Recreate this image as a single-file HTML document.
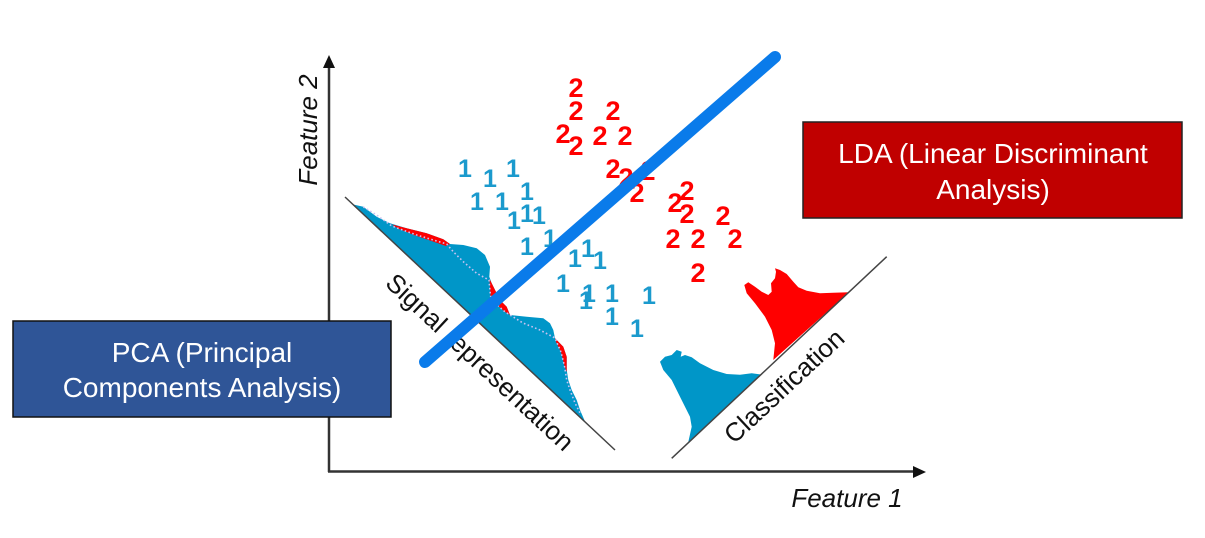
<!DOCTYPE html>
<html><head><meta charset="utf-8"><style>
html,body{margin:0;padding:0;background:#fff;}
svg{display:block;}
text{font-family:"Liberation Sans",sans-serif;}
</style></head><body>
<svg width="1205" height="538" viewBox="0 0 1205 538" xmlns="http://www.w3.org/2000/svg">
<!-- axes -->
<line x1="329" y1="472" x2="329" y2="66" stroke="#333" stroke-width="2.5"/>
<polygon points="323,68 335,68 329,55" fill="#111"/>
<line x1="328" y1="471.5" x2="914" y2="471.5" stroke="#333" stroke-width="2.5"/>
<polygon points="913,466 913,478 926,472" fill="#111"/>
<text x="0" y="0" transform="translate(317,130) rotate(-90)" text-anchor="middle" font-size="26" font-style="italic" fill="#111">Feature 2</text>
<text x="847" y="507" text-anchor="middle" font-size="26" font-style="italic" fill="#111">Feature 1</text>

<!-- signal representation line & distribution -->
<polygon fill="#0096C8" points="353.3,204.5 363.3,206.7 376.7,216.7 390,223.3 406.7,228.3 426.7,233.3 443.3,239.3 450,244 463.3,245 476.7,248.3 485,255 490,266.7 489.3,276.7 491.7,283.3 500,300 506.7,306.7 510,315 526.7,316.7 543.3,318.3 550,323.3 553.3,330 555,338.3 563.3,346.7 566.7,356.7 566.7,370 568.3,380 571.7,390 576.7,400 580,410 585,421.5"/>
<polygon fill="#FF0000" points="392,224.5 406.7,228.3 426.7,233.3 443.3,239.3 450,244 446,246 430,240.5 414,235 398,228.5"/>
<polygon fill="#FF0000" points="489.5,279 491.7,283.3 500,300 506.7,306.7 510,315 504,311 496,304 490.5,296"/>
<polygon fill="#FF0000" points="555,338.3 563.3,346.7 566.7,356.7 566.7,372 564.5,366 561,352 556,342"/>
<polyline fill="none" stroke="#C9C2F2" stroke-width="1.6" stroke-dasharray="1.6,2.4" points="363.3,207 376.7,215 391.7,226 416.7,235 446.7,244 453.3,251.7 463.3,261.7 476.7,273.3 489,280 490.5,296 496,304 504,311 510,315 523,323 540,330 555,338 561,352 564.5,366 566.7,380 570,390 575,403 580,413"/>
<line x1="345" y1="197" x2="615" y2="450" stroke="#444" stroke-width="1.5"/>
<text x="0" y="0" transform="translate(480,362) rotate(43)" text-anchor="middle" dy="9" font-size="26" fill="#111">Signal representation</text>

<!-- classification line & distributions -->
<polygon fill="#0096C8" points="688.3,442 691.7,426.7 690,416.7 680,396.7 671.7,380 663.3,370 660,361.7 665,356.7 671.7,355 676.7,350 681.7,351.7 680.7,356.7 685,355 691.7,357.3 700,363.3 713.3,370 726.7,374 740,374.7 751.7,373.3 761,374.5"/>
<polygon fill="#FF0000" points="773.3,360 775,343.3 771.7,330 765,316.7 755,303.3 746.7,293.3 744.3,285 748.3,282.3 755,286.7 761.7,291.7 768.3,295 771.7,291.7 771,283.3 775,278.3 776,271.7 775,268.3 780,270 786.7,274 793.3,281.7 798.3,287.3 806.7,290.7 820,293.3 833.3,292.7 849,292.3"/>
<line x1="671.7" y1="458.3" x2="886.7" y2="256.7" stroke="#444" stroke-width="1.5"/>
<text x="0" y="0" transform="translate(784,386) rotate(-43)" text-anchor="middle" dy="9" font-size="26" fill="#111">Classification</text>

<!-- digits 1 -->
<g fill="#1B9ACD" font-size="25" font-weight="bold" text-anchor="middle">
<text x="465" y="177">1</text>
<text x="490" y="187">1</text>
<text x="513" y="177">1</text>
<text x="477" y="210">1</text>
<text x="502" y="210">1</text>
<text x="527" y="200">1</text>
<text x="514" y="229">1</text>
<text x="527" y="222">1</text>
<text x="539" y="224">1</text>
<text x="527" y="255">1</text>
<text x="550" y="247">1</text>
<text x="575" y="267">1</text>
<text x="588" y="257">1</text>
<text x="600" y="269">1</text>
<text x="563" y="292">1</text>
<text x="589" y="302">1</text>
<text x="586" y="309">1</text>
<text x="612" y="302">1</text>
<text x="649" y="304">1</text>
<text x="612" y="325">1</text>
<text x="637" y="337">1</text>
</g>
<!-- digits 2 -->
<g fill="#FF0000" font-size="27" font-weight="bold" text-anchor="middle">
<text x="576" y="97">2</text>
<text x="576" y="120">2</text>
<text x="613" y="120">2</text>
<text x="563" y="143">2</text>
<text x="576" y="155">2</text>
<text x="600" y="145">2</text>
<text x="625" y="145">2</text>
<text x="613" y="178">2</text>
<text x="626" y="187">2</text>
<text x="648" y="180">2</text>
<text x="637" y="202">2</text>
<text x="687" y="200">2</text>
<text x="675" y="212">2</text>
<text x="687" y="223">2</text>
<text x="723" y="225">2</text>
<text x="673" y="248">2</text>
<text x="698" y="248">2</text>
<text x="735" y="248">2</text>
<text x="698" y="282">2</text>
</g>

<!-- PCA box -->
<rect x="13" y="321" width="378" height="96" fill="#2F5597" stroke="#111" stroke-width="1.5"/>
<g fill="#fff" font-size="28" text-anchor="middle">
<text x="202" y="362">PCA (Principal</text>
<text x="202" y="397">Components Analysis)</text>
</g>
<!-- LDA box -->
<rect x="803" y="122" width="379" height="96" fill="#C00000" stroke="#222" stroke-width="1.5"/>
<g fill="#fff" font-size="28" text-anchor="middle">
<text x="993" y="163">LDA (Linear Discriminant</text>
<text x="993" y="199">Analysis)</text>
</g>

<!-- blue projection line -->
<line x1="425" y1="362" x2="775" y2="57" stroke="#0A7BEA" stroke-width="12" stroke-linecap="round"/>
</svg>
</body></html>
